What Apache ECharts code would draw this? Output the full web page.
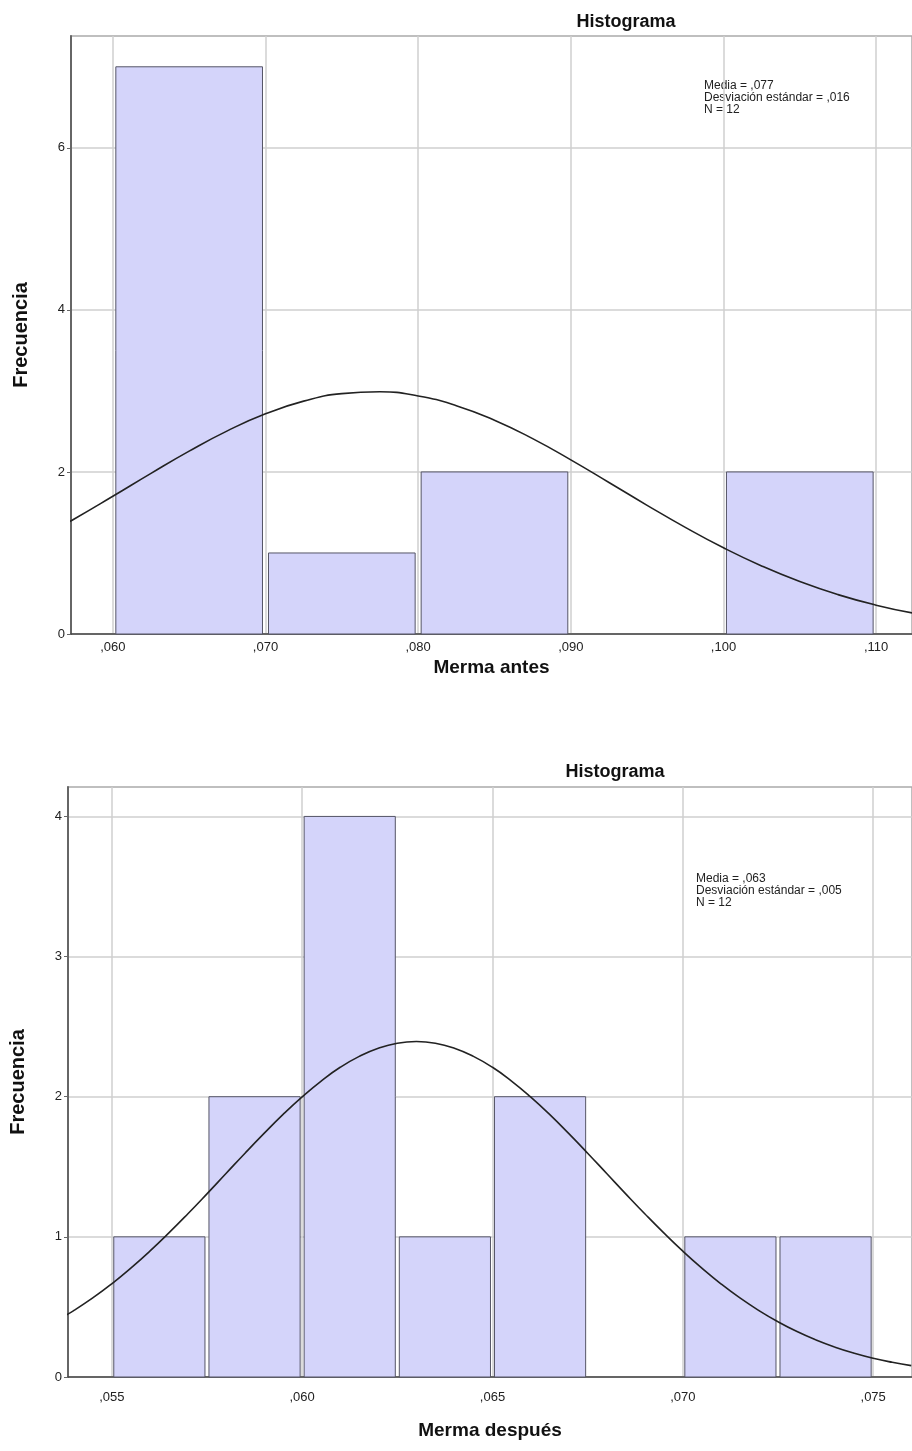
<!DOCTYPE html>
<html lang="es">
<head>
<meta charset="UTF-8">
<title>Histograma</title>
<script src="https://cdn.jsdelivr.net/npm/echarts@6/dist/echarts.min.js"></script>
<style>
  html, body { margin: 0; padding: 0; background: #fff; }
  #main { width: 912px; height: 1451px; }
</style>
</head>
<body>
<div id="main"></div>
<script>
// Merma antes
var antesEdges = [0.060, 0.070, 0.080, 0.090, 0.100, 0.110];
var antesCounts = [7, 1, 2, 0, 2];
var antesTicks = [0.060, 0.070, 0.080, 0.090, 0.100, 0.110];
var antesCurveX = [0.0550, 0.0575, 0.0600, 0.0625, 0.0650, 0.0675, 0.0700, 0.0725, 0.0750, 0.0775, 0.0800, 0.0825,
                   0.0850, 0.0875, 0.0900, 0.0925, 0.0950, 0.0975, 0.1000, 0.1025, 0.1050, 0.1075, 0.1100, 0.1125];
var antesCurveY = [1.162, 1.423, 1.700, 1.983, 2.257, 2.507, 2.717, 2.874, 2.967, 2.989, 2.938, 2.818,
                   2.639, 2.411, 2.149, 1.870, 1.588, 1.316, 1.064, 0.840, 0.647, 0.486, 0.356, 0.255];
var antesStats = ['Media = ,077', 'Desviación estándar = ,016', 'N = 12'];

// Merma después
var despuesEdges = [0.0550, 0.0575, 0.0600, 0.0625, 0.0650, 0.0675, 0.0700, 0.0725, 0.0750];
var despuesCounts = [1, 2, 4, 1, 2, 0, 1, 1];
var despuesTicks = [0.055, 0.060, 0.065, 0.070, 0.075];
var despuesCurveX = [0.0535, 0.0540, 0.0545, 0.0550, 0.0555, 0.0560, 0.0565, 0.0570, 0.0575, 0.0580, 0.0585, 0.0590,
                     0.0595, 0.0600, 0.0605, 0.0610, 0.0615, 0.0620, 0.0625, 0.0630, 0.0635, 0.0640, 0.0645, 0.0650,
                     0.0655, 0.0660, 0.0665, 0.0670, 0.0675, 0.0680, 0.0685, 0.0690, 0.0695, 0.0700, 0.0705, 0.0710,
                     0.0715, 0.0720, 0.0725, 0.0730, 0.0735, 0.0740, 0.0745, 0.0750, 0.0755, 0.0760];
var despuesCurveY = [0.394, 0.474, 0.564, 0.665, 0.777, 0.898, 1.028, 1.165, 1.307, 1.452, 1.597, 1.738,
                     1.874, 1.999, 2.112, 2.210, 2.288, 2.346, 2.382, 2.394, 2.382, 2.346, 2.288, 2.210,
                     2.112, 1.999, 1.874, 1.738, 1.597, 1.452, 1.307, 1.165, 1.028, 0.898, 0.777, 0.665,
                     0.564, 0.474, 0.394, 0.324, 0.264, 0.213, 0.170, 0.134, 0.105, 0.081];
var despuesStats = ['Media = ,063', 'Desviación estándar = ,005', 'N = 12'];

var yTicksAntes = [0, 2, 4, 6];
var yTicksDespues = [0, 1, 2, 3, 4];

var FONT = '"Liberation Sans", Arial, sans-serif';
var BAR_FILL = '#d4d4fa';
var BAR_LINE = '#555566';

function bins(edges, counts) {
    var out = [];
    for (var i = 0; i < counts.length; i++) {
        if (counts[i] > 0) out.push([edges[i], edges[i + 1], counts[i]]);
    }
    return out;
}

function pairs(xs, ys) {
    return xs.map(function (x, i) { return [x, ys[i]]; });
}

// ,060 style labels
function fmt(v) {
    return v.toFixed(3).replace(/^0\./, ',');
}

function barRenderer(gap) {
    return function (params, api) {
        var p0 = api.coord([api.value(0), 0]);
        var p1 = api.coord([api.value(1), api.value(2)]);
        return {
            type: 'rect',
            shape: { x: p0[0] + gap, y: p1[1], width: p1[0] - p0[0] - 2 * gap, height: p0[1] - p1[1] },
            style: { fill: BAR_FILL, stroke: BAR_LINE, lineWidth: 1 }
        };
    };
}

function xAxisCfg(idx, min, max, ticks, name, margin, nameGap) {
    return {
        gridIndex: idx, type: 'value', min: min, max: max,
        name: name, nameLocation: 'middle', nameGap: nameGap,
        nameTextStyle: { fontFamily: FONT, fontWeight: 'bold', fontSize: 19, color: '#111', verticalAlign: 'top' },
        axisLine: { show: true, lineStyle: { color: '#444', width: 1.5 } },
        axisTick: { show: false, customValues: ticks },
        axisLabel: { customValues: ticks, formatter: fmt, margin: margin, fontFamily: FONT, fontSize: 13, color: '#222' },
        splitLine: { show: true, lineStyle: { color: '#cfcfcf', width: 1.5 } }
    };
}

function yAxisCfg(idx, max, ticks) {
    return {
        gridIndex: idx, type: 'value', min: 0, max: max,
        name: 'Frecuencia', nameLocation: 'middle', nameGap: 40, nameRotate: 90,
        nameTextStyle: { fontFamily: FONT, fontWeight: 'bold', fontSize: 20, color: '#111' },
        axisLine: { show: true, lineStyle: { color: '#666', width: 2 } },
        axisTick: { show: true, length: 4, customValues: ticks, lineStyle: { color: '#666' } },
        axisLabel: { customValues: ticks, margin: 6, fontFamily: FONT, fontSize: 13, color: '#222' },
        splitLine: { show: true, lineStyle: { color: '#cfcfcf', width: 1.5 } }
    };
}

function statsText(lines, x, y) {
    return {
        type: 'text', left: x, top: y,
        style: { text: lines.join('\n'), font: '12px ' + FONT, fill: '#222', lineHeight: 12 }
    };
}

var myChart = echarts.init(document.getElementById('main'));

var option = {
    backgroundColor: '#fff',
    animation: false,
    title: [
        { text: 'Histograma', left: 621, top: 8, textAlign: 'center',
          textStyle: { fontFamily: FONT, fontWeight: 'bold', fontSize: 18, color: '#111' } },
        { text: 'Histograma', left: 610, top: 758, textAlign: 'center',
          textStyle: { fontFamily: FONT, fontWeight: 'bold', fontSize: 18, color: '#111' } }
    ],
    grid: [
        { left: 71, top: 36, right: -3, height: 598, show: true, borderColor: '#aaa', borderWidth: 1.5 },
        { left: 67, top: 787, right: -3, height: 590, show: true, borderColor: '#aaa', borderWidth: 1.5 }
    ],
    xAxis: [
        xAxisCfg(0, 0.05726, 0.11235, antesTicks, 'Merma antes', 7, 24),
        xAxisCfg(1, 0.05385, 0.07602, despuesTicks, 'Merma después', 14, 44)
    ],
    yAxis: [
        yAxisCfg(0, 7.38, yTicksAntes),
        yAxisCfg(1, 4.21, yTicksDespues)
    ],
    graphic: [
        statsText(antesStats, 704, 80),
        statsText(despuesStats, 696, 873)
    ],
    series: [
        {
            type: 'custom', xAxisIndex: 0, yAxisIndex: 0,
            renderItem: barRenderer(3),
            encode: { x: [0, 1], y: 2 },
            data: bins(antesEdges, antesCounts)
        },
        {
            type: 'line', xAxisIndex: 0, yAxisIndex: 0, smooth: true, symbol: 'none', z: 5,
            lineStyle: { color: '#222', width: 1.6 },
            data: pairs(antesCurveX, antesCurveY)
        },
        {
            type: 'custom', xAxisIndex: 1, yAxisIndex: 1,
            renderItem: barRenderer(2),
            encode: { x: [0, 1], y: 2 },
            data: bins(despuesEdges, despuesCounts)
        },
        {
            type: 'line', xAxisIndex: 1, yAxisIndex: 1, smooth: true, symbol: 'none', z: 5,
            lineStyle: { color: '#222', width: 1.6 },
            data: pairs(despuesCurveX, despuesCurveY)
        }
    ]
};

myChart.setOption(option);
window.onresize = myChart.resize;
</script>
</body>
</html>
